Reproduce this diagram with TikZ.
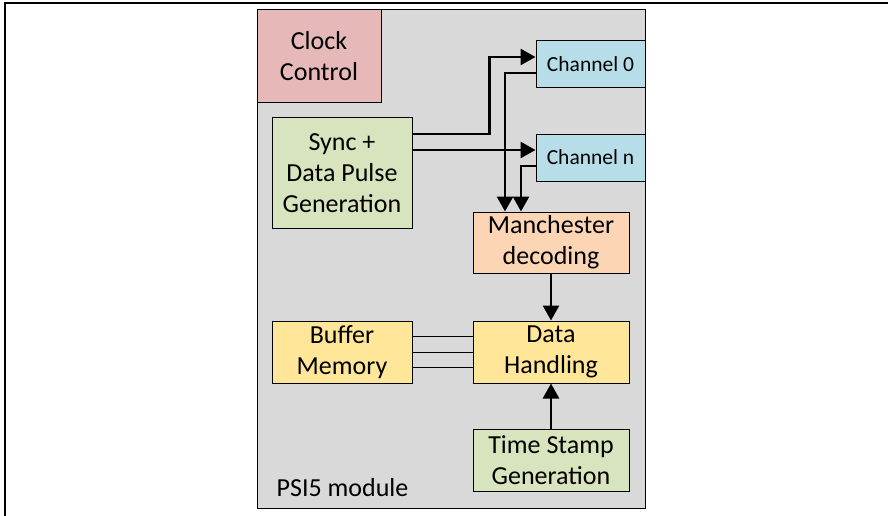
\documentclass[tikz,border=0pt]{standalone}
\usepackage{fontspec}
\setmainfont{Carlito}
\usepackage{tikz}
\usetikzlibrary{arrows.meta}

\definecolor{clockred}{HTML}{E6B9B8}
\definecolor{syncgreen}{HTML}{D7E4BD}
\definecolor{chanblue}{HTML}{B7DEE8}
\definecolor{manchorange}{HTML}{FCD5B5}
\definecolor{datayellow}{HTML}{FFE699}
\definecolor{modulegray}{HTML}{D9D9D9}

\begin{document}
\begin{tikzpicture}[%
      x=1pt,y=-1pt,
      block/.style={draw=black,line width=1pt,inner sep=0pt,align=center,
        font=\fontsize{26}{31}\selectfont},
      chan/.style={block,fill=chanblue,minimum width=109pt,minimum height=47pt,
        font=\fontsize{21.5}{26}\selectfont},
      sig/.style={line width=2.7pt,-{Triangle[length=15pt,width=16pt]}},
      bus/.style={line width=1pt},
      ]
      \useasboundingbox (0,0) rectangle (888,516);
      \draw [line width=1.5pt] (5,516) -- (5,3) -- (888,3);

      \node [block,fill=modulegray,minimum width=388pt,minimum height=498pt] (psi) at (451,259) {};
      \node [font=\fontsize{26}{31}\selectfont] (psilabel) at (342.5,488) {PSI5 module};

      \node [block,fill=clockred,minimum width=124pt,minimum height=93pt] (clk) at (319,56.5) {Clock\\Control};
      \node [block,fill=syncgreen,minimum width=140pt,minimum height=110pt] (sync) at (342,173) {Sync +\\Data Pulse\\Generation};
      \node [chan] (ch0) at (590.5,64.5) {Channel 0};
      \node [chan] (chn) at (590.5,157.5) {Channel n};
      \node [block,fill=manchorange,minimum width=156pt,minimum height=61pt] (manch) at (551,242.5) {Manchester\\decoding};
      \node [block,fill=datayellow,minimum width=156pt,minimum height=62pt] (data) at (551,352) {Data\\Handling};
      \node [block,fill=datayellow,minimum width=140pt,minimum height=62pt] (buf) at (342,352) {Buffer\\Memory};
      \node [block,fill=syncgreen,minimum width=156pt,minimum height=62pt] (ts) at (551,460) {Time Stamp\\Generation};

      \draw [sig] ([yshift=39pt]sync.east) -- ++(77,0) |- ([yshift=7.5pt]ch0.west);
      \draw [sig] ([yshift=23pt]sync.east) -- ([yshift=7.5pt]chn.west);
      \draw [sig] ([yshift=-8.5pt]ch0.west) -| ([xshift=-46pt]manch.north);
      \draw [sig] ([yshift=-8.5pt]chn.west) -| ([xshift=-30pt]manch.north);
      \draw [sig] (manch.south) -- (data.north);
      \draw [sig] (ts.north) -- (data.south);

      \foreach \dy in {15.5,0,-15.5}
        \draw [bus] ([yshift=\dy pt]buf.east) -- ([yshift=\dy pt]data.west);
\end{tikzpicture}
\end{document}
